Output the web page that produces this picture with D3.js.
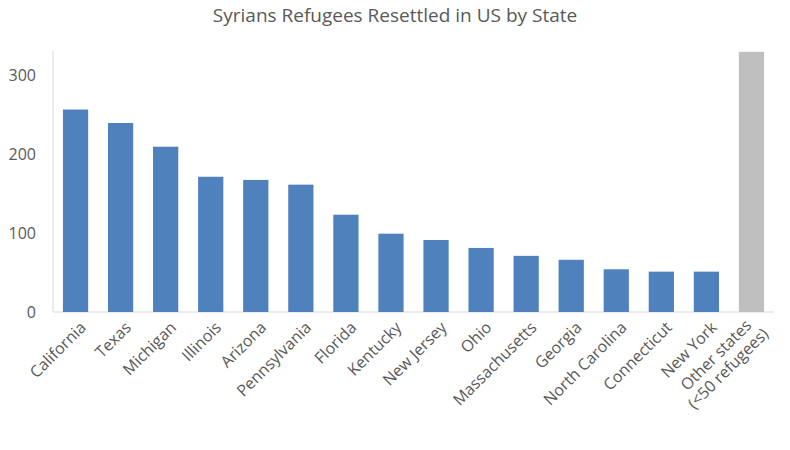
<!DOCTYPE html><html><head><meta charset="utf-8"><script src="https://cdn.jsdelivr.net/npm/d3@7"></script>
<style>body{margin:0;background:#fff}text{font-family:"Open Sans",sans-serif;fill:#595959}</style></head><body><svg id="c" width="790" height="450"></svg>
<script>
const categories=["California","Texas","Michigan","Illinois","Arizona","Pennsylvania","Florida","Kentucky","New Jersey","Ohio","Massachusetts","Georgia","North Carolina","Connecticut","New York","Other states|(<50 refugees)"];
const values=[256,239,209,171,167,161,123,99,91,81,71,66,54,51,51,329];
const yTicks=[0,100,200,300];
const svg=d3.select("#c");
const x=d3.scaleBand().domain(categories).range([53,774]).paddingInner(0.44).paddingOuter(0.22);
const y=d3.scaleLinear().domain([0,330]).range([312,51]);
svg.append("text").attr("x",395).attr("y",22).attr("text-anchor","middle").attr("font-size",19).text("Syrians Refugees Resettled in US by State");
svg.append("line").attr("x1",53).attr("x2",53).attr("y1",51).attr("y2",312).attr("stroke","#d9d9d9");
svg.append("line").attr("x1",53).attr("x2",774).attr("y1",312).attr("y2",312).attr("stroke","#d9d9d9");
svg.selectAll("text.yt").data(yTicks).join("text").attr("class","yt").attr("x",36).attr("y",d=>y(d)+6).attr("text-anchor","end").attr("font-size",16).text(d=>d);
svg.selectAll("rect").data(values).join("rect").attr("x",(d,i)=>x(categories[i])).attr("width",x.bandwidth()).attr("y",d=>y(d)).attr("height",d=>312-y(d)).attr("fill",(d,i)=>i==15?"#bfbfbf":"#4f81bd");
categories.forEach(c=>{
  const cx=x(c)+x.bandwidth()/2, parts=c.split("|");
  const g=svg.append("g").attr("transform",`translate(${cx+8},${325}) rotate(-45)`);
  parts.forEach((p,j)=>g.append("text").attr("x",parts.length>1&&j==0?-6:0).attr("y",parts.length>1?j*18-4:5).attr("text-anchor","end").attr("font-size",16).text(p));
});
</script></body></html>
